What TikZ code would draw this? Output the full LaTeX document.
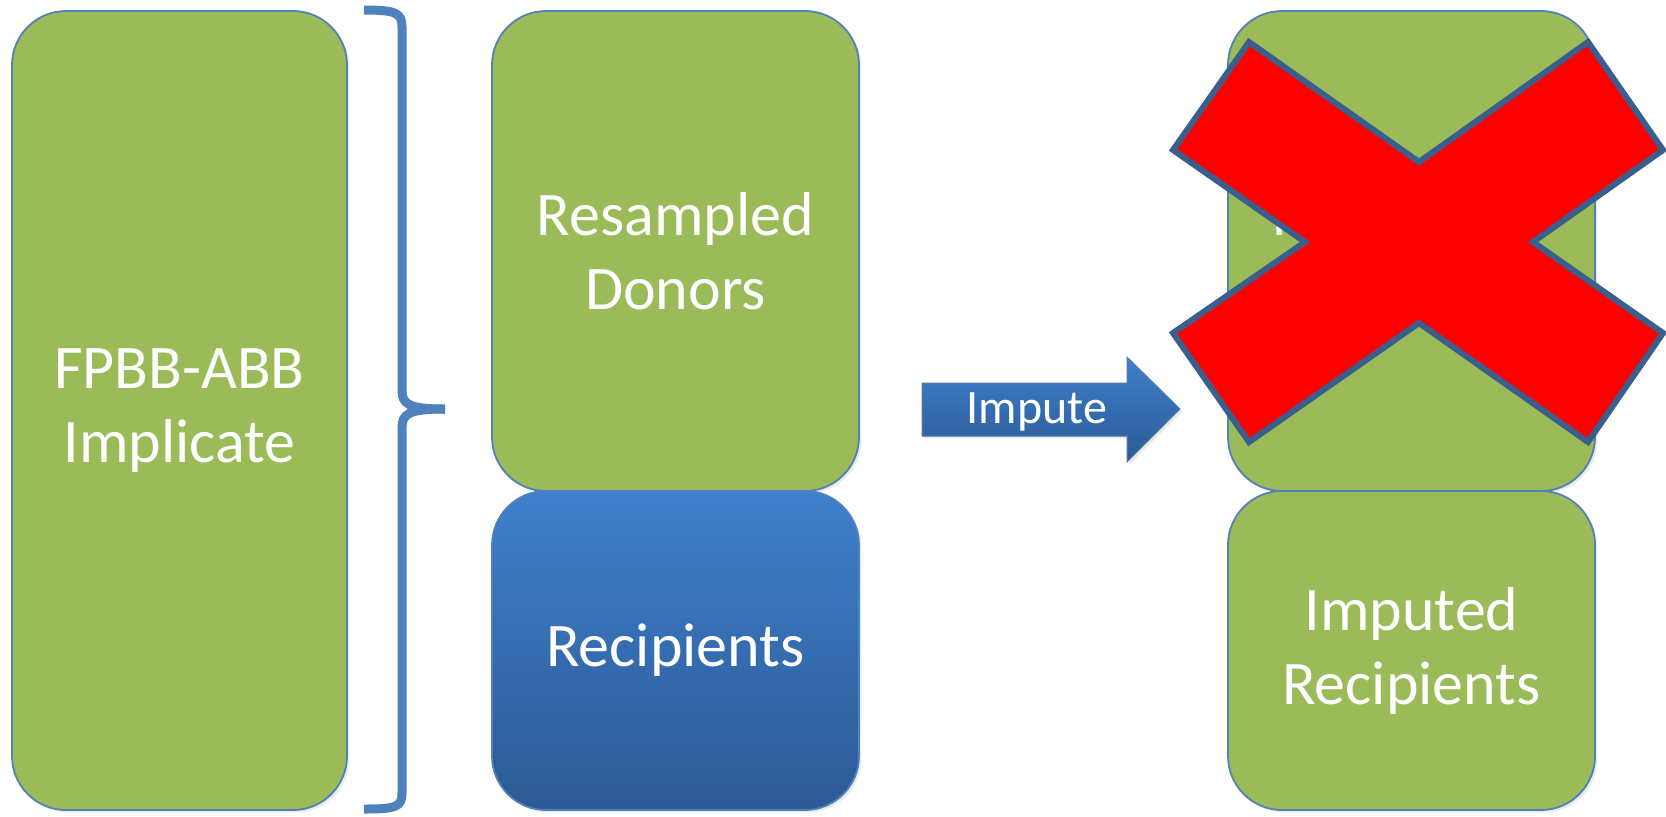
\documentclass[tikz,border=0pt]{standalone}
\usepackage{fontspec}
\setmainfont{Carlito}
\usetikzlibrary{shadows}
\definecolor{boxgreen}{HTML}{9BBB59}
\definecolor{edgeblue}{HTML}{4F81BD}
\definecolor{xedge}{HTML}{3A5F8C}
\definecolor{blueTop}{HTML}{3F7FCC}
\definecolor{blueBot}{HTML}{2C5A94}
\begin{document}
\begin{tikzpicture}[x=0.5pt,y=-0.5pt,
  panel/.style={rectangle, rounded corners=27pt, draw=edgeblue, line width=0.9pt,
    text=white, align=center, font=\fontsize{31}{37}\selectfont, inner sep=0pt,
    drop shadow={shadow xshift=1.2pt, shadow yshift=-1.2pt, opacity=0.18}},
  greenpanel/.style={panel, fill=boxgreen},
  bluepanel/.style={panel, top color=blueTop, bottom color=blueBot},
  tallpanel/.style={minimum width=167.5pt, minimum height=399.5pt},
  toppanel/.style={minimum width=183.5pt, minimum height=240pt},
  lowpanel/.style={minimum width=183.5pt, minimum height=159.5pt},
  bracestroke/.style={draw=edgeblue, line width=4.5pt, line cap=butt},
  crossmark/.style={fill=red, draw=xedge, line width=3pt, line join=miter}]
\useasboundingbox (0,0) rectangle (1666,816);

% implicate column
\node[greenpanel, tallpanel] (impl) at (179.5,410.5) {FPBB-ABB\\Implicate};

% brace grouping donors and recipients
\coordinate (tip) at (445,409);
\draw[bracestroke] (364,10) .. controls (396,10) and (402,13) .. (402,27)
  -- (402,390) .. controls (402,404) and (408,409) .. (tip);
\draw[bracestroke] (tip) .. controls (408,409) and (402,414) .. (402,428)
  -- (402,793) .. controls (402,807) and (396,809) .. (364,809);

% donors and recipients
\node[greenpanel, toppanel] (donors) at (675.5,251) {Resampled\\Donors};
\node[bluepanel, lowpanel] (recip) at (675.5,650.5) {Recipients};

% impute arrow
\path[top color=blueTop, bottom color=blueBot, draw=blueBot!80, line width=0.5pt,
  drop shadow={shadow xshift=1.2pt, shadow yshift=-1.2pt, opacity=0.18}]
  (922,383) -- (1127,383) -- (1127,357) -- (1180,409) -- (1127,462) -- (1127,436)
  -- (922,436) -- cycle;
\node[text=white, font=\fontsize{24}{28}\selectfont, inner sep=0pt] (imp) at (1037,412) {Impute};

% result column
\node[greenpanel, toppanel] (donors2) at (1411.5,251) {Resampled\\Donors};
\node[greenpanel, lowpanel] (imputed) at (1411.5,650.5) {Imputed\\Recipients};

% cross over the discarded donors
\filldraw[crossmark] (1249,42) -- (1419,162) -- (1588,42) -- (1663,150) -- (1533,242)
  -- (1663,333) -- (1588,442) -- (1419,323) -- (1249,442) -- (1173,333)
  -- (1305,242) -- (1173,150) -- cycle;
\end{tikzpicture}
\end{document}
